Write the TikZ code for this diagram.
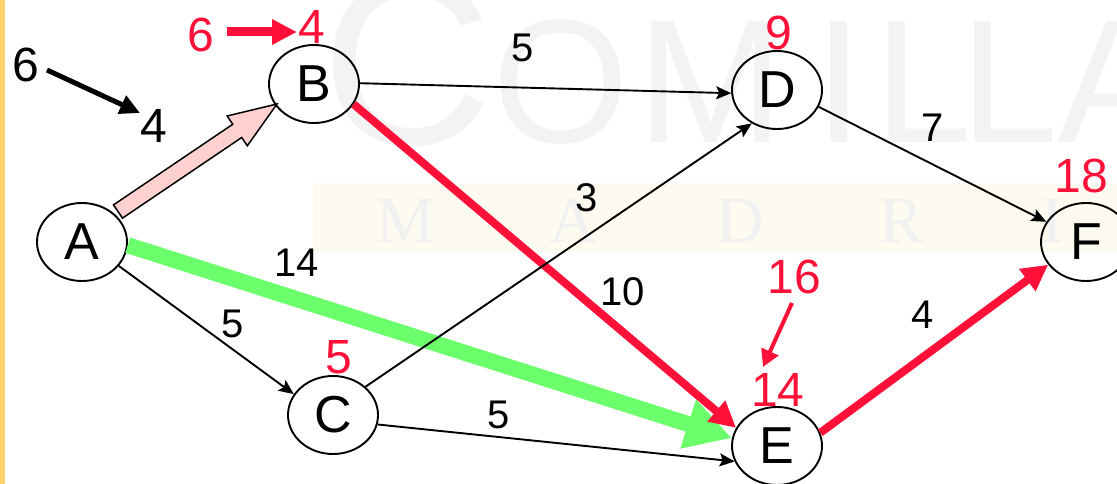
\documentclass[tikz,border=0pt]{standalone}
\usepackage{fontspec}
\setmainfont{Liberation Sans}
\newfontfamily\wmserif{Liberation Serif}
\usetikzlibrary{arrows.meta,calc,shapes.geometric}
\definecolor{myred}{HTML}{FF1038}
\definecolor{mygreen}{HTML}{6CFF6C}
\definecolor{mypink}{HTML}{FFD0D0}
\definecolor{wmgray}{HTML}{F3F3F3}
\definecolor{bandcol}{HTML}{FDFAF0}
\definecolor{bandtext}{HTML}{F1F1F1}
\definecolor{stripcol}{HTML}{FFD06B}
\tikzset{
  vertex/.style={draw=black, line width=1.9pt, ellipse, minimum width=90pt, minimum height=78pt, inner sep=0pt, font=\fontsize{52}{52}\selectfont},
  wlabel/.style={inner sep=0pt, font=\fontsize{40}{40}\selectfont},
  rlabel/.style={inner sep=0pt, text=myred, font=\fontsize{48}{48}\selectfont},
  blabel/.style={inner sep=0pt, font=\fontsize{48}{48}\selectfont},
  wmbig/.style={inner sep=0pt, text=wmgray, anchor=base west},
  wmband/.style={inner sep=0pt, text=bandtext, anchor=base, font=\wmserif\fontsize{66}{66}\selectfont},
  thinedge/.style={line width=1.9pt, -{Stealth[length=15pt,width=13pt,inset=3pt]}},
  critedge/.style={draw=myred, line width=8pt, -{Triangle[length=26pt,width=26pt]}},
  greenedge/.style={draw=mygreen, line width=16pt, -{Triangle[length=46pt,width=48pt]}},
}
\begin{document}
\begin{tikzpicture}[x=1pt,y=-1pt]
\useasboundingbox (0,0) rectangle (1117,484);
\fill[white] (0,0) rectangle (1117,484);
\fill[stripcol] (0,0) rectangle (4.5,484);
% watermark
\node[wmbig, font=\fontsize{237}{237}\selectfont] (wmC) at (321,145) {C};
\node[wmbig, font=\fontsize{176}{176}\selectfont] (wmO) at (492,143) {O};
\node[wmbig, font=\fontsize{176}{176}\selectfont] (wmM) at (637,143) {M};
\node[wmbig, font=\fontsize{176}{176}\selectfont] (wmI) at (814,143) {I};
\node[wmbig, font=\fontsize{176}{176}\selectfont] (wmL1) at (874,143) {L};
\node[wmbig, font=\fontsize{176}{176}\selectfont] (wmL2) at (960,143) {L};
\node[wmbig, font=\fontsize{176}{176}\selectfont] (wmA) at (1057,143) {A};
\fill[bandcol] (313,183) rectangle (1117,252);
\node[wmband] (bM) at (406,242) {M};
\node[wmband] (bA) at (573,242) {A};
\node[wmband] (bD) at (740,242) {D};
\node[wmband] (bR) at (902,242) {R};
\node[wmband] (bI) at (1052,242) {I};
% vertices
\node[vertex] (A) at (82,242) {A};
\node[vertex] (B) at (314,84) {B};
\node[vertex] (C) at (333,415) {C};
\node[vertex] (D) at (777,90) {D};
\node[vertex] (E) at (777,446) {E};
\node[vertex] (F) at (1086,242) {F};
% edges
\draw[greenedge] (A.356) -- (E.170);
\draw[critedge] (B.333) -- (E.156);
\draw[critedge] (E.17) -- (F.211);
\draw[thinedge] (A.327) -- (C.152);
\draw[thinedge] (B.1) -- (D.184);
\draw[thinedge] (C.41) -- (D.233);
\draw[thinedge] (C.348) -- (E.200);
\draw[thinedge] (D.338) -- (F.153);
% block arrow A -> B
\coordinate (pkT) at (118,211.5);
\coordinate (pkP) at (277,104);
\coordinate (pkH) at ($(pkP)!48pt!(pkT)$);
\filldraw[fill=mypink, draw=black, line width=1.5pt, line join=miter]
  ($(pkT)!8pt!90:(pkP)$) -- ($(pkH)!8pt!90:(pkP)$) -- ($(pkH)!18pt!90:(pkP)$) -- (pkP)
  -- ($(pkH)!18pt!-90:(pkP)$) -- ($(pkH)!8pt!-90:(pkP)$) -- ($(pkT)!8pt!-90:(pkP)$) -- cycle;
% edge weights
\node[wlabel] (w1) at (523,48) {5};
\node[wlabel] (w2) at (587,198) {3};
\node[wlabel] (w3) at (297,263) {14};
\node[wlabel] (w4) at (233,324) {5};
\node[wlabel] (w5) at (623,292) {10};
\node[wlabel] (w6) at (499,415) {5};
\node[wlabel] (w7) at (933,128) {7};
\node[wlabel] (w8) at (923,315) {4};
% black annotation
\node[blabel] (k6) at (26,65) {6};
\node[blabel] (k4) at (154,126) {4};
\coordinate (k6a) at (47,70);
\coordinate (k6b) at (140,113);
\draw[line width=5pt, -{Triangle[length=20pt,width=19pt]}] (k6a) -- (k6b);
% red annotations
\node[rlabel] (r6) at (201,35) {6};
\node[rlabel] (r4) at (312,27) {4};
\coordinate (r6a) at (227,32);
\coordinate (r6b) at (297,32);
\draw[draw=myred, line width=9pt, -{Triangle[length=25pt,width=24pt]}] (r6a) -- (r6b);
\node[rlabel] (r9) at (779,33) {9};
\node[rlabel] (r18) at (1081,176) {18};
\node[rlabel] (r16) at (794,277) {16};
\node[rlabel] (r14) at (778,390) {14};
\node[rlabel] (r5) at (339,357) {5};
\coordinate (r16a) at (792,303);
\coordinate (r16b) at (763,367);
\draw[draw=myred, line width=4pt, -{Triangle[length=17pt,width=18pt]}] (r16a) -- (r16b);
\end{tikzpicture}
\end{document}
